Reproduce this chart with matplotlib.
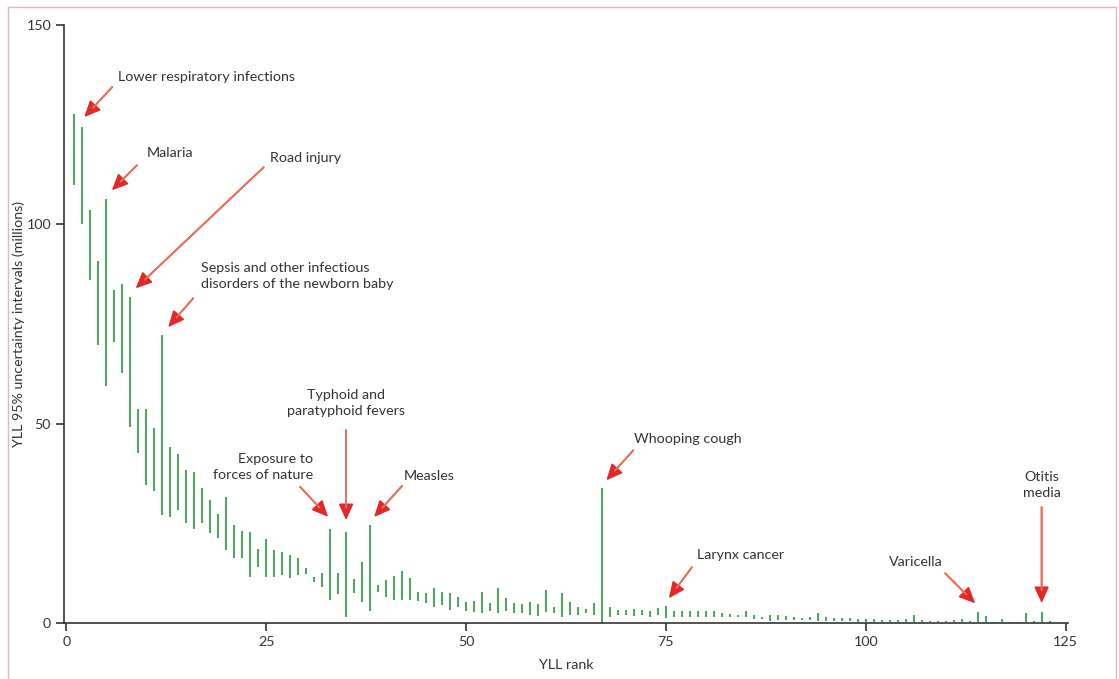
import matplotlib
matplotlib.use("Agg")
import matplotlib.pyplot as plt
import numpy as np

# YLL 95% uncertainty intervals (millions) by YLL rank
lower = [109.8, 100.2, 86.0, 69.7, 59.4, 70.5, 62.7, 49.2, 42.7, 34.6,
         33.2, 27.1, 26.5, 28.3, 25.0, 23.7, 25.0, 22.6, 21.2, 18.3,
         16.2, 16.2, 11.6, 14.1, 11.6, 11.6, 12.0, 11.2, 12.0, 12.2,
         10.4, 9.1, 5.8, 7.3, 1.4, 7.4, 5.3, 3.1, 7.7, 6.4,
         5.8, 5.8, 5.8, 5.6, 5.1, 4.1, 4.5, 3.3, 4.1, 3.1,
         2.8, 2.4, 3.1, 2.4, 3.1, 2.4, 2.4, 2.0, 1.8, 2.8,
         2.4, 1.4, 2.0, 2.0, 2.4, 2.0, 0.1, 1.6, 2.0, 2.0,
         1.8, 2.0, 1.6, 2.0, 1.2, 1.6, 1.6, 1.4, 1.4, 1.4,
         1.6, 1.6, 1.6, 1.6, 1.4, 0.9, 0.9, 0.6, 0.75, 0.75,
         0.75, 0.75, 0.75, 0.6, 0.6, 0.6, 0.6, 0.6, 0.3, 0.3,
         0.3, 0.3, 0.3, 0.3, 0.3, 0.3, 0.3, 0.2, 0.2, 0.2,
         0.2, 0.2, 0.2, 0.3, 0.3, 0.1, 0.2, 0.1, 0.1, 0.3,
         0.1, 0.3, 0.1]
upper = [127.6, 124.4, 103.7, 90.8, 106.4, 83.6, 85.0, 81.8, 53.8, 53.6,
         48.8, 72.2, 44.2, 42.5, 38.5, 37.9, 33.9, 30.8, 27.3, 31.5,
         24.6, 23.1, 22.9, 18.5, 21.0, 18.3, 17.9, 17.0, 16.2, 13.7,
         11.6, 12.6, 23.7, 12.6, 22.9, 11.0, 15.4, 24.6, 9.5, 10.8,
         11.8, 13.1, 11.2, 7.8, 7.4, 8.7, 7.8, 7.4, 6.6, 5.3,
         5.6, 7.8, 5.1, 8.9, 6.2, 4.9, 4.8, 5.3, 4.8, 8.4,
         4.1, 7.4, 5.3, 4.1, 3.4, 4.9, 33.8, 4.1, 3.3, 3.3,
         3.6, 3.3, 3.1, 3.8, 4.2, 3.1, 2.9, 2.9, 3.1, 2.9,
         3.1, 2.5, 2.3, 2.0, 2.9, 2.0, 1.6, 2.0, 2.0, 1.8,
         1.6, 1.2, 1.6, 2.4, 1.6, 1.2, 1.2, 1.2, 0.9, 0.9,
         0.9, 0.75, 0.75, 0.75, 0.9, 2.0, 0.75, 0.6, 0.6, 0.6,
         0.75, 0.9, 0.6, 2.8, 1.75, 0.3, 0.9, 0.3, 0.3, 2.4,
         0.6, 2.8, 0.6]
rank = np.arange(1, len(lower) + 1)

# annotated causes and their ranks
causes = ["Lower respiratory infections", "Malaria", "Road injury",
          "Sepsis and other infectious\ndisorders of the newborn baby",
          "Typhoid and\nparatyphoid fevers", "Exposure to\nforces of nature",
          "Measles", "Whooping cough", "Larynx cancer", "Varicella",
          "Otitis\nmedia"]
cause_rank = [2, 5, 8, 12, 35, 33, 38, 67, 75, 114, 122]

# layout (pixels): tip offset from bar top, tail offset from tip, text offset from tip, alignment
tip_off = [(2, 10), (5.6, 8.5), (5.4, 8.6), (6, 8), (0, 11.6), (-2, 11.7),
           (4, 8), (4.4, 8), (3, 8), (-2.5, 8.5), (0, 8.8)]
tail_off = [(28, 30), (25, 25), (128, 121), (25, 29), (0, 90), (-28, 30),
            (28, 31), (27, 30), (23, 31), (-30, 30), (0, 96)]
text_off = [(34, 40), (35, 37), (134, 130), (33, 51), (0, 117), (-15, 50),
            (30, 41), (28, 41), (28, 43), (-32, 41), (0, 118)]
text_ha = ["left", "left", "left", "left", "center", "right",
           "left", "left", "left", "right", "center"]

plt.rcParams['font.family'] = ['Lato', 'DejaVu Sans']
green = '#54a36a'
red = '#e3282a'
salmon = '#e6735a'
ink = '#333333'

fig = plt.figure(figsize=(11.19, 6.79), dpi=100)
ax = fig.add_axes([64.3 / 1119, 1 - 623 / 679, (1068 - 64.3) / 1119, 598 / 679])
ax.set_xlim(-0.25, 125.3)
ax.set_ylim(0, 150)

ax.vlines(rank, lower, upper, colors=green, lw=1.5)

for name, r, tp, tl, tx, ha in zip(causes, cause_rank, tip_off, tail_off, text_off, text_ha):
    top = upper[r - 1]
    tip = ax.transData.transform((r, top)) + np.array(tp)
    tip = ax.transData.inverted().transform(tip)
    # red head
    ax.annotate("", xy=tip, xytext=tl, textcoords='offset pixels',
                arrowprops=dict(arrowstyle='-|>,head_length=0.55,head_width=0.25',
                                color=red, lw=1.2, shrinkA=0, shrinkB=0,
                                mutation_scale=18))
    # lighter shaft
    ax.annotate("", xy=tip, xytext=tl, textcoords='offset pixels',
                arrowprops=dict(arrowstyle='-', color=salmon, lw=1.3,
                                shrinkA=0, shrinkB=9))
    ax.annotate(name, xy=tip, xytext=tx, textcoords='offset pixels',
                ha=ha, va='center', multialignment=ha, fontsize=10.3,
                color=ink, linespacing=1.45)

ax.set_xticks([0, 25, 50, 75, 100, 125])
ax.set_yticks([0, 50, 100, 150])
ax.spines['top'].set_visible(False)
ax.spines['right'].set_visible(False)
for s in ['left', 'bottom']:
    ax.spines[s].set_color(ink)
    ax.spines[s].set_linewidth(1.2)
ax.tick_params(colors=ink, labelsize=10.3, length=6, width=1.2, direction='out')
ax.set_xlabel("YLL rank", fontsize=10.3, color=ink, labelpad=8)
ax.set_ylabel("YLL 95% uncertainty intervals (millions)", fontsize=10.3, color=ink, labelpad=1)

# scanned page border
border = '#dcb9c2'
fig.add_artist(plt.Line2D([8 / 1119, 1116 / 1119], [1 - 7 / 679, 1 - 7 / 679], color=border, lw=1))
fig.add_artist(plt.Line2D([8 / 1119, 8 / 1119], [0, 1 - 7 / 679], color=border, lw=1))
fig.add_artist(plt.Line2D([1116 / 1119, 1116 / 1119], [0, 1 - 7 / 679], color='#c8c8c8', lw=1))

fig.savefig("out.png", dpi=100)
